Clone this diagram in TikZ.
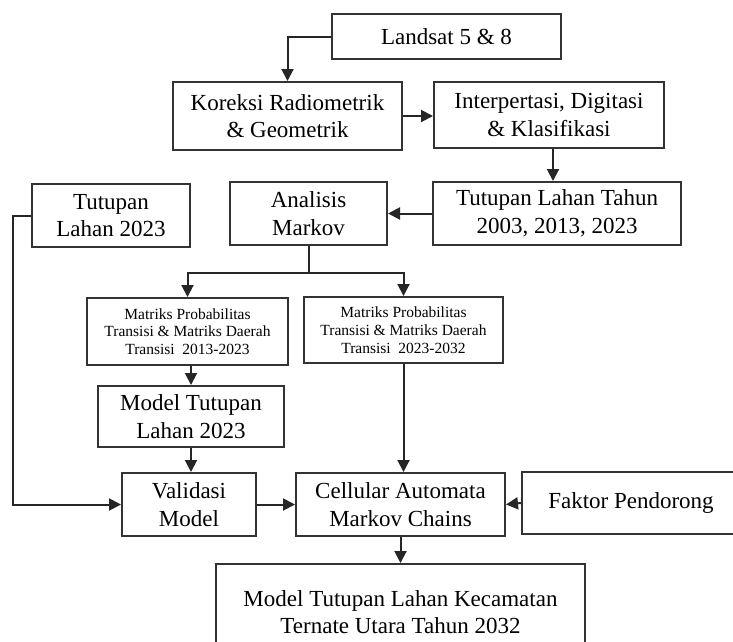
\documentclass[tikz,border=0pt]{standalone}
\usepackage{fontspec}
\setmainfont{Liberation Serif}
\usetikzlibrary{arrows.meta}
\newcommand{\bigtext}{\fontsize{23}{27.5}\selectfont}
\newcommand{\smalltext}{\fontsize{15.5}{17.7}\selectfont}

\begin{document}
\begin{tikzpicture}[x=1pt, y=-1pt, >={Triangle[length=12pt,width=12pt]},
  box/.style={draw=black!80, line width=2pt, align=center, inner sep=0pt, font=\bigtext},
  smallbox/.style={box, font=\smalltext},
  flow/.style={->, line width=2pt, draw=black!85}]
  % Frame of the picture
  \useasboundingbox (0,0) rectangle (733,641);
  \clip (0,0) rectangle (733,641);
  % Input and preprocessing
  \node[box, minimum width=229, minimum height=45] (landsat) at (446.5,36.5) {Landsat 5 \& 8};
  \node[box, minimum width=229, minimum height=68] (koreksi) at (287.5,116) {Koreksi Radiometrik\\\& Geometrik};
  \node[box, minimum width=230, minimum height=66] (interp) at (549,115) {Interpertasi, Digitasi\\\& Klasifikasi};
  % Land cover and Markov analysis
  \node[box, minimum width=248, minimum height=63] (tltahun) at (557,213.5) {Tutupan Lahan Tahun\\2003, 2013, 2023};
  \node[box, minimum width=157, minimum height=63] (markov) at (308.5,213.5) {Analisis\\Markov};
  \node[box, minimum width=158, minimum height=63] (tl2023) at (111,215.5) {Tutupan\\Lahan 2023};
  % Transition matrices
  \node[smallbox, minimum width=201, minimum height=67] (matriksA) at (187.5,331.5) {Matriks Probabilitas\\Transisi \& Matriks Daerah\\Transisi~~2013-2023};
  \node[smallbox, minimum width=199, minimum height=66] (matriksB) at (403.5,330) {Matriks Probabilitas\\Transisi \& Matriks Daerah\\Transisi~~2023-2032};
  \node[box, minimum width=186, minimum height=61] (model23) at (191,416.5) {Model Tutupan\\Lahan 2023};
  % CA-Markov and result
  \node[box, minimum width=134, minimum height=63] (validasi) at (189,504.5) {Validasi\\Model};
  \node[box, minimum width=209, minimum height=63] (camarkov) at (400.5,504.5) {Cellular Automata\\Markov Chains};
  \node[box, minimum width=218, minimum height=62] (faktor) at (631,503) {Faktor Pendorong};
  \node[box, minimum width=369, minimum height=96] (hasil) at (400.5,612) {Model Tutupan Lahan Kecamatan\\Ternate Utara Tahun 2032};
  % Arrows
  \draw[flow] (landsat.west) -| (koreksi.north);
  \draw[flow] (koreksi.east) -- (interp.west |- koreksi.east);
  \draw[flow] ([xshift=4]interp.south) -- ([xshift=4]interp.south |- tltahun.north);
  \draw[flow] (tltahun.west) -- (markov.east);
  \draw[line width=2pt, black!85] (markov.south) -- ++(0,27) coordinate (split);
  \draw[flow] (split) -| (matriksA.north);
  \draw[flow] (split) -| (matriksB.north);
  \draw[flow] (model23.north |- matriksA.south) -- (model23.north);
  \draw[flow] (model23.south) -- (model23.south |- validasi.north);
  \draw[flow] (tl2023.west) -- ++(-18,0) |- (validasi.west);
  \draw[flow] (matriksB.south) -- (matriksB.south |- camarkov.north);
  \draw[flow] (validasi.east) -- (camarkov.west);
  \draw[flow] (faktor.west) -- (camarkov.east);
  \draw[flow] (camarkov.south) -- (hasil.north);
\end{tikzpicture}
\end{document}
